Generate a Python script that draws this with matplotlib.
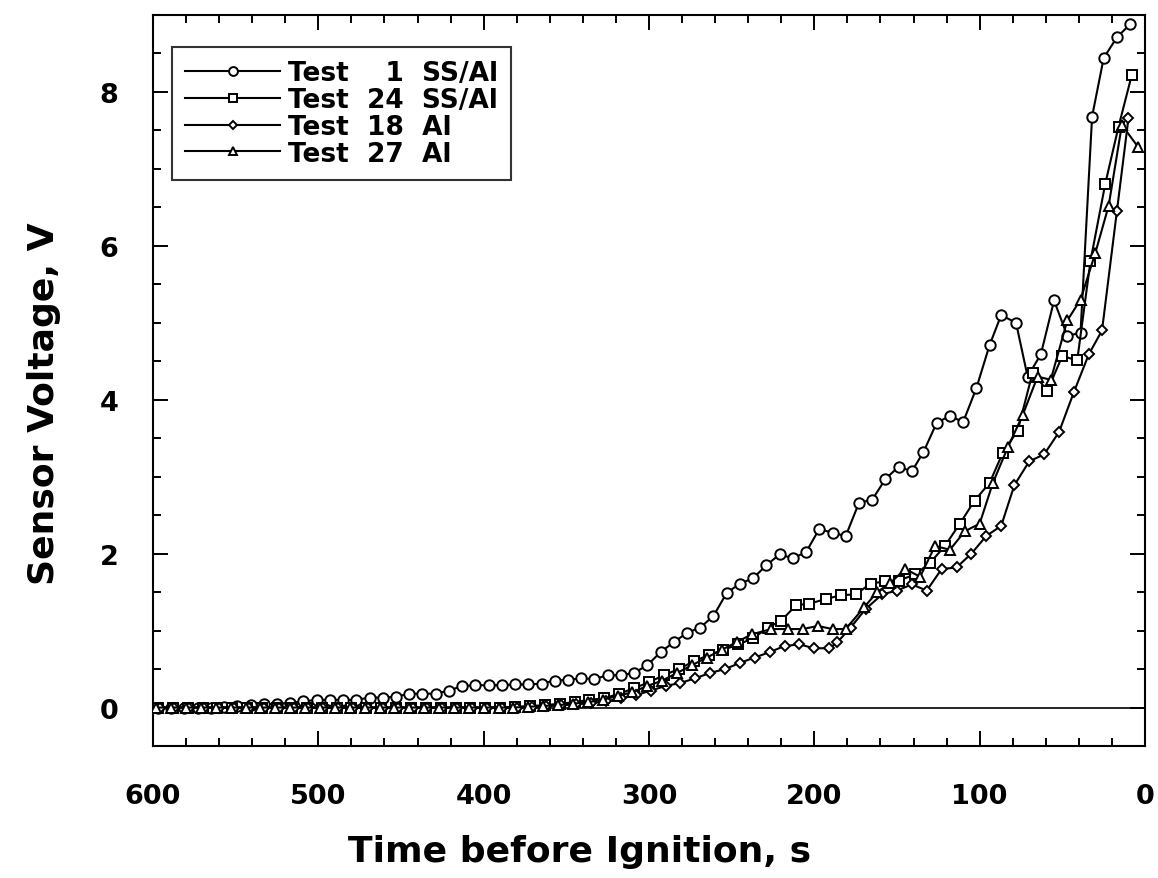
import matplotlib
matplotlib.use("Agg")
import matplotlib.pyplot as plt
from matplotlib.ticker import MultipleLocator
from matplotlib.lines import Line2D

# ---- Data: sensor voltage vs. time before ignition ----
t_test1 = [597, 589, 581, 573, 565, 557, 549, 541, 533, 525, 517, 509, 501, 493, 485,
           477, 469, 461, 453, 445, 437, 429, 421, 413, 405, 397, 389, 381, 373, 365,
           357, 349, 341, 333, 325, 317, 309, 301, 293, 285, 277, 269, 261, 253, 245,
           237, 229, 221, 213, 205, 197, 189, 181, 173, 165, 157, 149, 141, 134, 126,
           118, 110, 102, 94, 87, 78, 71, 63, 55, 47, 39, 32, 25, 17, 9]
v_test1 = [0.00, 0.00, 0.00, 0.00, 0.00, 0.01, 0.02, 0.03, 0.04, 0.05, 0.06, 0.08, 0.10, 0.10, 0.10,
           0.10, 0.13, 0.13, 0.14, 0.18, 0.18, 0.18, 0.22, 0.28, 0.29, 0.29, 0.29, 0.30, 0.30, 0.31,
           0.35, 0.36, 0.38, 0.37, 0.42, 0.42, 0.45, 0.55, 0.72, 0.85, 0.97, 1.04, 1.19, 1.49, 1.61,
           1.68, 1.85, 1.99, 1.94, 2.02, 2.32, 2.27, 2.23, 2.66, 2.70, 2.97, 3.13, 3.07, 3.32, 3.70,
           3.79, 3.71, 4.15, 4.71, 5.10, 5.00, 4.30, 4.59, 5.29, 4.83, 4.87, 7.68, 8.44, 8.71, 8.88]

t_test24 = [597, 588, 579, 570, 561, 552, 543, 534, 525, 516, 507, 498, 489, 480, 471,
            462, 453, 444, 435, 426, 417, 408, 399, 390, 381, 372, 363, 354, 345, 336,
            327, 318, 309, 300, 291, 282, 273, 264, 255, 246, 237, 228, 220, 211, 203,
            193, 184, 175, 166, 157, 149, 139, 130, 121, 112, 103, 94, 86, 77, 68,
            59, 50, 41, 33, 24, 16, 8]
v_test24 = [0.00, 0.00, 0.00, 0.00, 0.00, 0.00, 0.00, 0.00, 0.00, 0.00, 0.00, 0.00, 0.00, 0.00, 0.00,
            0.00, 0.00, 0.00, 0.00, 0.00, 0.00, 0.00, 0.00, 0.00, 0.01, 0.02, 0.03, 0.05, 0.07, 0.10,
            0.12, 0.18, 0.25, 0.33, 0.42, 0.50, 0.60, 0.68, 0.75, 0.82, 0.90, 1.04, 1.13, 1.33, 1.35,
            1.41, 1.46, 1.47, 1.61, 1.64, 1.65, 1.73, 1.88, 2.10, 2.39, 2.69, 2.92, 3.31, 3.60, 4.35,
            4.12, 4.57, 4.51, 5.80, 6.81, 7.55, 8.22]

t_test18 = [596, 587, 578, 569, 560, 551, 542, 533, 524, 515, 506, 497, 488, 479, 470,
            461, 452, 443, 434, 425, 416, 407, 398, 389, 380, 371, 362, 353, 344, 335,
            326, 317, 308, 299, 290, 281, 272, 263, 254, 245, 236, 227, 218, 209, 200,
            191, 186, 178, 169, 159, 150, 141, 132, 123, 114, 105, 96, 87, 79, 70,
            61, 52, 43, 34, 26, 17, 10]
v_test18 = [0.00, 0.00, 0.00, 0.00, 0.00, 0.00, 0.00, 0.00, 0.00, 0.00, 0.00, 0.00, 0.00, 0.00, 0.00,
            0.00, 0.00, 0.00, 0.00, 0.00, 0.00, 0.00, 0.00, 0.00, 0.00, 0.01, 0.02, 0.03, 0.04, 0.06,
            0.08, 0.12, 0.16, 0.22, 0.28, 0.32, 0.38, 0.45, 0.50, 0.58, 0.65, 0.72, 0.80, 0.82, 0.77,
            0.77, 0.85, 1.04, 1.28, 1.47, 1.52, 1.60, 1.52, 1.80, 1.82, 2.00, 2.23, 2.36, 2.89, 3.20,
            3.29, 3.58, 4.10, 4.59, 4.90, 6.45, 7.66]

t_test27 = [598, 589, 580, 571, 562, 553, 544, 535, 526, 517, 508, 499, 490, 481, 472,
            463, 454, 445, 436, 427, 418, 409, 400, 391, 382, 373, 364, 355, 346, 337,
            328, 319, 310, 301, 292, 283, 274, 265, 256, 247, 238, 226, 216, 207, 198,
            189, 181, 170, 162, 154, 145, 136, 127, 118, 109, 100, 92, 83, 74, 65,
            57, 47, 39, 30, 22, 14, 4]
v_test27 = [0.00, 0.00, 0.00, 0.00, 0.00, 0.00, 0.00, 0.00, 0.00, 0.00, 0.00, 0.00, 0.00, 0.00, 0.00,
            0.00, 0.00, 0.00, 0.00, 0.00, 0.00, 0.00, 0.00, 0.00, 0.00, 0.01, 0.02, 0.03, 0.05, 0.07,
            0.10, 0.15, 0.20, 0.28, 0.35, 0.45, 0.55, 0.65, 0.75, 0.85, 0.95, 1.02, 1.02, 1.02, 1.06,
            1.02, 1.02, 1.30, 1.50, 1.62, 1.80, 1.70, 2.10, 2.05, 2.29, 2.39, 2.92, 3.38, 3.80, 4.30,
            4.26, 5.03, 5.30, 5.91, 6.52, 7.57, 7.28]

series_labels = ["Test  \u20071  SS/Al", "Test  24  SS/Al", "Test  18  Al", "Test  27  Al"]
x_ticks = [600, 500, 400, 300, 200, 100, 0]
y_ticks = [0, 2, 4, 6, 8]

# ---- Figure ----
fig = plt.figure(figsize=(11.58, 8.79), dpi=100)
ax = fig.add_axes([153 / 1158, 1 - 747 / 879, (1145 - 153) / 1158, (747 - 16) / 879])

bold = dict(family="DejaVu Sans", weight="bold")
lw = 1.5
mew = 1.4

ax.axhline(0, color="black", lw=1.2, zorder=1)

styles = [
    dict(marker="o", ms=7.5),
    dict(marker="s", ms=7.0),
    dict(marker="D", ms=5.0),
    dict(marker="^", ms=7.0),
]
data = [(t_test1, v_test1), (t_test24, v_test24), (t_test18, v_test18), (t_test27, v_test27)]
for (t, v), st, lab in zip(data, styles, series_labels):
    ax.plot(t, v, color="black", lw=lw, marker=st["marker"], ms=st["ms"],
            mfc="white", mec="black", mew=mew, label=lab, zorder=3)

ax.set_xlim(600, 0)
ax.set_ylim(-0.5, 9)
ax.set_xticks(x_ticks)
ax.set_yticks(y_ticks)
ax.xaxis.set_minor_locator(MultipleLocator(20))
ax.yaxis.set_minor_locator(MultipleLocator(0.5))
ax.tick_params(which="both", direction="in", top=True, right=True, width=1.4, colors="black")
ax.tick_params(which="major", length=11)
ax.tick_params(which="minor", length=5.5)
ax.tick_params(axis="x", which="major", pad=27)
ax.tick_params(axis="y", which="major", pad=25)
for lbl in ax.get_xticklabels() + ax.get_yticklabels():
    lbl.set_fontfamily("DejaVu Sans")
    lbl.set_fontweight("bold")
    lbl.set_fontsize(19.5)
for sp in ax.spines.values():
    sp.set_linewidth(1.5)

ax.set_xlabel("Time before Ignition, s", fontsize=26, **bold)
ax.set_ylabel("Sensor Voltage, V", fontsize=26, **bold)
ax.xaxis.set_label_coords(0.43, -0.12)
ax.yaxis.set_label_coords(-0.093, 0.47)

# Legend with line-through-marker handles
handles = [Line2D([], [], color="black", lw=lw, marker=st["marker"], ms=st["ms"] * 0.85,
                  mfc="white", mec="black", mew=mew) for st in styles]
leg = ax.legend(handles, series_labels, loc="upper left", bbox_to_anchor=(0.019, 0.956),
                borderaxespad=0, frameon=True, fancybox=False, handlelength=3.6,
                handletextpad=0.3, labelspacing=0.03, borderpad=0.5, markerscale=1,
                prop=dict(family="DejaVu Sans", weight="bold", size=19))
leg.get_frame().set_edgecolor("black")
leg.get_frame().set_linewidth(1.5)

fig.savefig("out.png", dpi=100)
